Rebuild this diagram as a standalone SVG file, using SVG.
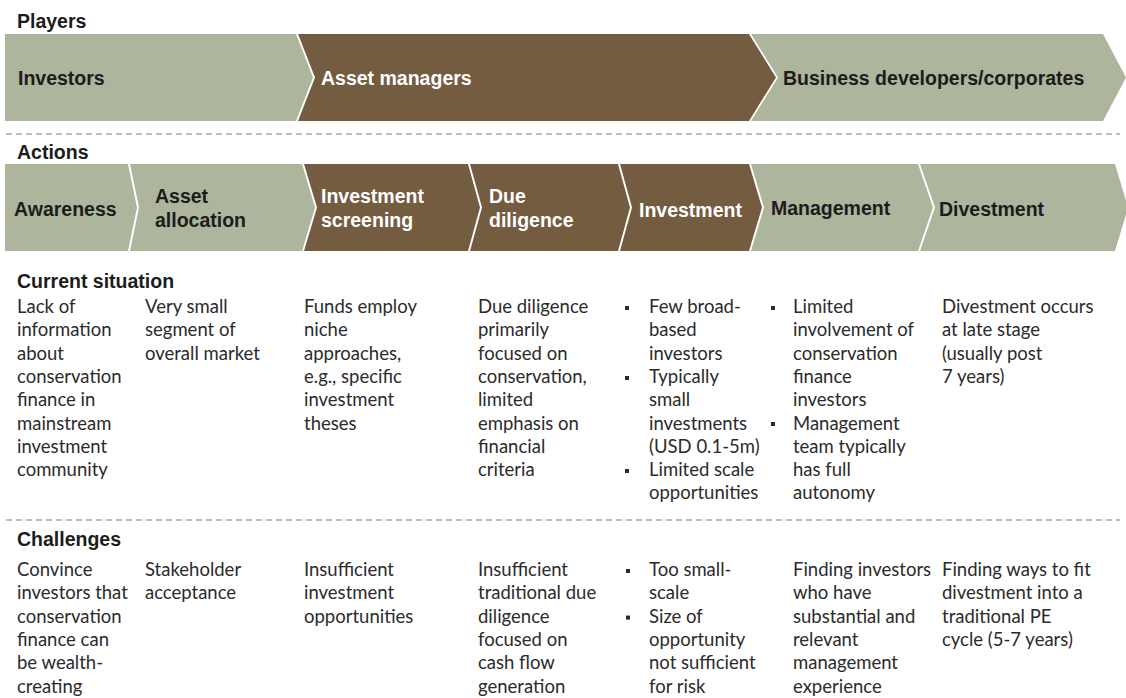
<svg xmlns="http://www.w3.org/2000/svg" width="1126" height="698" viewBox="0 0 1126 698">
<style>
.g{fill:#adb59d}
.b{fill:#745c40}
.h{font-family:"Liberation Sans",Arial,sans-serif;font-weight:bold;font-size:19.5px;fill:#1c1c1c}
.hw{font-family:"Liberation Sans",Arial,sans-serif;font-weight:bold;font-size:19.5px;fill:#ffffff}
.t{font-family:Lato,"Open Sans",sans-serif;font-size:18.5px;fill:#2b2b2b}
.sep{stroke:#a8a8a8;stroke-width:1.3;stroke-dasharray:6 4;fill:none}
.bul{fill:#2b2b2b}
</style>
<rect width="1126" height="698" fill="#ffffff"/>

<g id="labels">
<text class="h" x="17" y="28">Players</text>
<text class="h" x="17" y="159">Actions</text>
<text class="h" x="17" y="288">Current situation</text>
<text class="h" x="17" y="546">Challenges</text>
</g>

<g id="connectors">
<line class="sep" x1="6" y1="134" x2="1120" y2="134"/>
<line class="sep" x1="6" y1="520" x2="1120" y2="520"/>
</g>

<g id="player-investors">
<polygon class="g" points="5,34 296,34 313,77.5 296,121 5,121"/>
<text class="h" x="18" y="85">Investors</text>
</g>
<g id="player-asset-managers">
<polygon class="b" points="298,34 749,34 776,77.5 749,121 298,121 315,77.5"/>
<text class="hw" x="321" y="85">Asset managers</text>
</g>
<g id="player-business-developers">
<polygon class="g" points="751,34 1103,34 1126,77.5 1103,121 751,121 778,77.5"/>
<text class="h" x="783" y="85">Business developers/corporates</text>
</g>

<g id="action-awareness">
<polygon class="g" points="5,164 128,164 137,207.5 128,251 5,251"/>
<text class="h" x="14" y="216">Awareness</text>
</g>
<g id="action-asset-allocation">
<polygon class="g" points="130,164 302,164 315,207.5 302,251 130,251 139,207.5"/>
<text class="h" x="155" y="203">Asset<tspan x="155" dy="24">allocation</tspan></text>
</g>
<g id="action-investment-screening">
<polygon class="b" points="304,164 468,164 480,207.5 468,251 304,251 317,207.5"/>
<text class="hw" x="321" y="203">Investment<tspan x="321" dy="24">screening</tspan></text>
</g>
<g id="action-due-diligence">
<polygon class="b" points="470,164 618,164 630,207.5 618,251 470,251 482,207.5"/>
<text class="hw" x="489" y="203">Due<tspan x="489" dy="24">diligence</tspan></text>
</g>
<g id="action-investment">
<polygon class="b" points="620,164 749,164 762,207.5 749,251 620,251 632,207.5"/>
<text class="hw" x="639" y="217">Investment</text>
</g>
<g id="action-management">
<polygon class="g" points="751,164 918,164 933,207.5 918,251 751,251 764,207.5"/>
<text class="h" x="771" y="215">Management</text>
</g>
<g id="action-divestment">
<polygon class="g" points="920,164 1115,164 1128,207.5 1115,251 920,251 935,207.5"/>
<text class="h" x="939" y="216">Divestment</text>
</g>

<g id="current-awareness">
<text class="t" x="17" y="313">Lack of<tspan x="17" dy="23.3">information</tspan><tspan x="17" dy="23.3">about</tspan><tspan x="17" dy="23.3">conservation</tspan><tspan x="17" dy="23.3">finance in</tspan><tspan x="17" dy="23.3">mainstream</tspan><tspan x="17" dy="23.3">investment</tspan><tspan x="17" dy="23.3">community</tspan></text>
</g>
<g id="current-asset-allocation">
<text class="t" x="145" y="313">Very small<tspan x="145" dy="23.3">segment of</tspan><tspan x="145" dy="23.3">overall market</tspan></text>
</g>
<g id="current-investment-screening">
<text class="t" x="304" y="313">Funds employ<tspan x="304" dy="23.3">niche</tspan><tspan x="304" dy="23.3">approaches,</tspan><tspan x="304" dy="23.3">e.g., specific</tspan><tspan x="304" dy="23.3">investment</tspan><tspan x="304" dy="23.3">theses</tspan></text>
</g>
<g id="current-due-diligence">
<text class="t" x="478" y="313">Due diligence<tspan x="478" dy="23.3">primarily</tspan><tspan x="478" dy="23.3">focused on</tspan><tspan x="478" dy="23.3">conservation,</tspan><tspan x="478" dy="23.3">limited</tspan><tspan x="478" dy="23.3">emphasis on</tspan><tspan x="478" dy="23.3">financial</tspan><tspan x="478" dy="23.3">criteria</tspan></text>
</g>
<g id="current-investment">
<rect class="bul" x="625" y="306" width="4" height="4"/>
<rect class="bul" x="625" y="376" width="4" height="4"/>
<rect class="bul" x="625" y="469" width="4" height="4"/>
<text class="t" x="649" y="313">Few broad-<tspan x="649" dy="23.3">based</tspan><tspan x="649" dy="23.3">investors</tspan><tspan x="649" dy="23.3">Typically</tspan><tspan x="649" dy="23.3">small</tspan><tspan x="649" dy="23.3">investments</tspan><tspan x="649" dy="23.3">(USD 0.1-5m)</tspan><tspan x="649" dy="23.3">Limited scale</tspan><tspan x="649" dy="23.3">opportunities</tspan></text>
</g>
<g id="current-management">
<rect class="bul" x="771" y="306" width="4" height="4"/>
<rect class="bul" x="771" y="422" width="4" height="4"/>
<text class="t" x="793" y="313">Limited<tspan x="793" dy="23.3">involvement of</tspan><tspan x="793" dy="23.3">conservation</tspan><tspan x="793" dy="23.3">finance</tspan><tspan x="793" dy="23.3">investors</tspan><tspan x="793" dy="23.3">Management</tspan><tspan x="793" dy="23.3">team typically</tspan><tspan x="793" dy="23.3">has full</tspan><tspan x="793" dy="23.3">autonomy</tspan></text>
</g>
<g id="current-divestment">
<text class="t" x="942" y="313">Divestment occurs<tspan x="942" dy="23.3">at late stage</tspan><tspan x="942" dy="23.3">(usually post</tspan><tspan x="942" dy="23.3">7 years)</tspan></text>
</g>

<g id="challenge-awareness">
<text class="t" x="17" y="576">Convince<tspan x="17" dy="23.3">investors that</tspan><tspan x="17" dy="23.3">conservation</tspan><tspan x="17" dy="23.3">finance can</tspan><tspan x="17" dy="23.3">be wealth-</tspan><tspan x="17" dy="23.3">creating</tspan></text>
</g>
<g id="challenge-asset-allocation">
<text class="t" x="145" y="576">Stakeholder<tspan x="145" dy="23.3">acceptance</tspan></text>
</g>
<g id="challenge-investment-screening">
<text class="t" x="304" y="576">Insufficient<tspan x="304" dy="23.3">investment</tspan><tspan x="304" dy="23.3">opportunities</tspan></text>
</g>
<g id="challenge-due-diligence">
<text class="t" x="478" y="576">Insufficient<tspan x="478" dy="23.3">traditional due</tspan><tspan x="478" dy="23.3">diligence</tspan><tspan x="478" dy="23.3">focused on</tspan><tspan x="478" dy="23.3">cash flow</tspan><tspan x="478" dy="23.3">generation</tspan></text>
</g>
<g id="challenge-investment">
<rect class="bul" x="626" y="569" width="4" height="4"/>
<rect class="bul" x="626" y="615.6" width="4" height="4"/>
<text class="t" x="649" y="576">Too small-<tspan x="649" dy="23.3">scale</tspan><tspan x="649" dy="23.3">Size of</tspan><tspan x="649" dy="23.3">opportunity</tspan><tspan x="649" dy="23.3">not sufficient</tspan><tspan x="649" dy="23.3">for risk</tspan></text>
</g>
<g id="challenge-management">
<text class="t" x="793" y="576">Finding investors<tspan x="793" dy="23.3">who have</tspan><tspan x="793" dy="23.3">substantial and</tspan><tspan x="793" dy="23.3">relevant</tspan><tspan x="793" dy="23.3">management</tspan><tspan x="793" dy="23.3">experience</tspan></text>
</g>
<g id="challenge-divestment">
<text class="t" x="942" y="576">Finding ways to fit<tspan x="942" dy="23.3">divestment into a</tspan><tspan x="942" dy="23.3">traditional PE</tspan><tspan x="942" dy="23.3">cycle (5-7 years)</tspan></text>
</g>
</svg>
